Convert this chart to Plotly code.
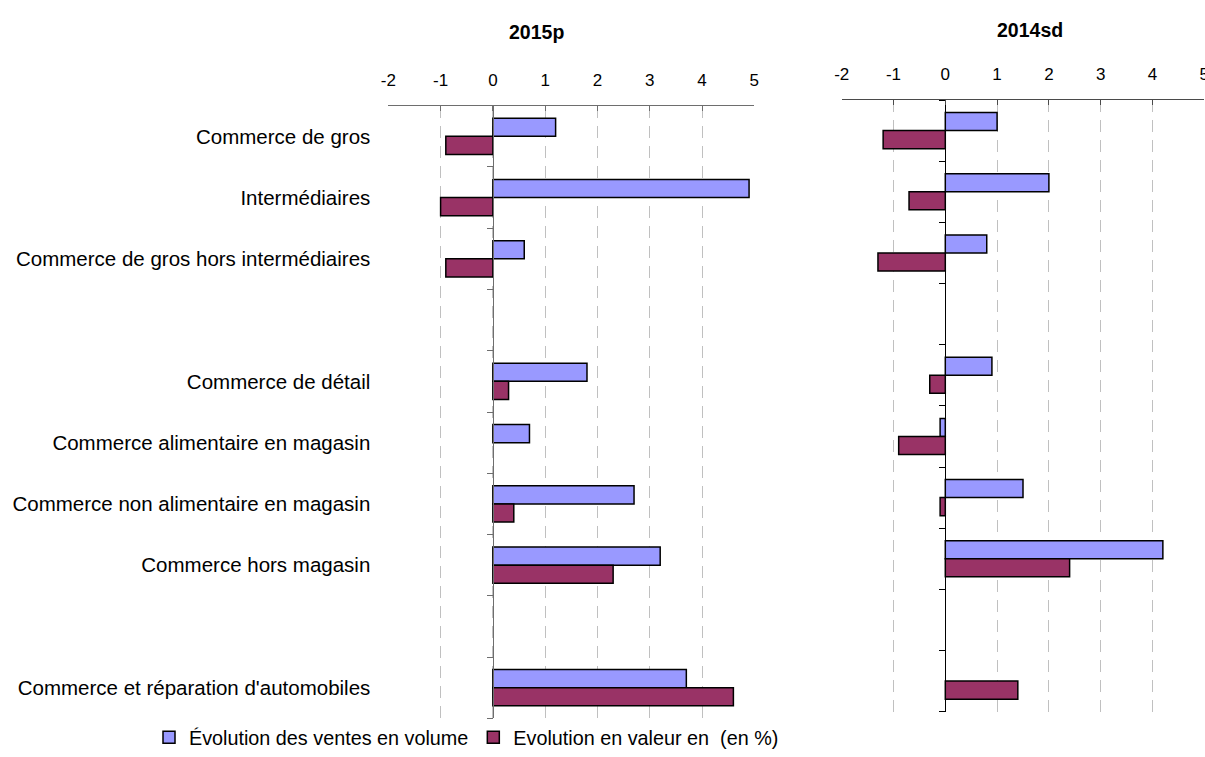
import plotly.graph_objects as go

# Rows of the chart; the two blank entries are spacer rows between sector groups
categories = [
    "Commerce de gros",
    "Intermédiaires",
    "Commerce de gros hors intermédiaires",
    " ",
    "Commerce de détail",
    "Commerce alimentaire en magasin",
    "Commerce non alimentaire en magasin",
    "Commerce hors magasin",
    "  ",
    "Commerce et réparation d'automobiles",
]

# 2015p (evolution in %)
volume_2015 = [1.2, 4.9, 0.6, None, 1.8, 0.7, 2.7, 3.2, None, 3.7]
valeur_2015 = [-0.9, -1.0, -0.9, None, 0.3, None, 0.4, 2.3, None, 4.6]

# 2014sd (evolution in %)
volume_2014 = [1.0, 2.0, 0.8, None, 0.9, -0.1, 1.5, 4.2, None, None]
valeur_2014 = [-1.2, -0.7, -1.3, None, -0.3, -0.9, -0.1, 2.4, None, 1.4]

panel_titles = ["2015p", "2014sd"]
series_names = ["Évolution des ventes en volume", "Evolution en valeur en  (en %)"]
x_ticks = [-2, -1, 0, 1, 2, 3, 4, 5]
x_tick_labels = ["-2", "-1", "0", "1", "2", "3", "4", "5"]

W, H = 1205, 757
BLUE = "#9999FF"
MAROON = "#993366"
FONT = "Liberation Sans, Arial, sans-serif"


def px_x(p):
    return p / W


def px_y(p):
    return 1 - p / H


fig = go.Figure()

panels = [
    dict(vol=volume_2015, val=valeur_2015, xa="x", ya="y", show=True),
    dict(vol=volume_2014, val=valeur_2014, xa="x2", ya="y2", show=False),
]

for p in panels:
    fig.add_trace(go.Bar(
        y=categories, x=p["vol"], orientation="h", name=series_names[0],
        marker=dict(color=BLUE, line=dict(color="#000000", width=1.5)),
        xaxis=p["xa"], yaxis=p["ya"], showlegend=p["show"], legendrank=1,
    ))
    fig.add_trace(go.Bar(
        y=categories, x=p["val"], orientation="h", name=series_names[1],
        marker=dict(color=MAROON, line=dict(color="#000000", width=1.5)),
        xaxis=p["xa"], yaxis=p["ya"], showlegend=p["show"], legendrank=2,
    ))

# panel geometry (pixels)
left_x = (388.3, 754.3)
right_x = (841.7, 1204.3)
left_y = (105.7, 718.3)
right_y = (100.0, 711.7)

n = len(categories)
boundaries = [i - 0.5 for i in range(n + 1)]


def xaxis_cfg(dom, anchor, line_col):
    return dict(
        domain=[px_x(dom[0]), px_x(dom[1])], range=[-2, 5], side="top",
        anchor=anchor, tickvals=x_ticks, ticktext=x_tick_labels,
        ticks="inside", ticklen=5, automargin=False, ticklabeloverflow="allow",
        tickcolor=line_col, showline=True, linecolor=line_col, linewidth=1,
        showgrid=True, gridcolor="#c0c0c0", gridwidth=1, griddash="12px,8px",
        zeroline=False, tickfont=dict(size=17, color="#000000", family=FONT),
        ticklabelstandoff=12, fixedrange=True,
    )


def zero_pos(dom):
    return px_x(dom[0] + (dom[1] - dom[0]) * 2 / 7)


fig.update_layout(
    width=W, height=H,
    margin=dict(l=0, r=0, t=0, b=0, autoexpand=False),
    paper_bgcolor="white", plot_bgcolor="white",
    barmode="group", bargap=0.41, bargroupgap=0,
    font=dict(family=FONT, color="#000000"),
    xaxis=xaxis_cfg(left_x, "y", "#6e6e6e"),
    xaxis2=xaxis_cfg(right_x, "y2", "#4a4a4a"),
    # category labels of the left panel
    yaxis=dict(
        domain=[px_y(left_y[1]), px_y(left_y[0])], type="category",
        categoryorder="array", categoryarray=categories,
        range=[n - 0.5, -0.5], anchor="free", position=px_x(left_x[0]),
        showline=False, ticks="", showgrid=False, zeroline=False,
        tickfont=dict(size=20.5, color="#000000", family=FONT),
        ticklabelstandoff=18, fixedrange=True, automargin=False,
    ),
    yaxis2=dict(
        domain=[px_y(right_y[1]), px_y(right_y[0])], type="category",
        categoryorder="array", categoryarray=categories,
        range=[n - 0.5, -0.5], anchor="free", position=px_x(right_x[0]),
        showline=False, ticks="", showticklabels=False, showgrid=False,
        zeroline=False, fixedrange=True, automargin=False,
    ),
    # vertical axis at zero with tick marks on row boundaries
    yaxis3=dict(
        overlaying="y", anchor="free", position=zero_pos(left_x),
        range=[n - 0.5, -0.5], tickvals=boundaries, ticks="outside", ticklen=6,
        tickcolor="#6e6e6e", showline=True, linecolor="#6e6e6e", linewidth=1,
        showticklabels=False, showgrid=False, zeroline=False, fixedrange=True,
        automargin=False,
    ),
    yaxis4=dict(
        overlaying="y2", anchor="free", position=zero_pos(right_x),
        range=[n - 0.5, -0.5], tickvals=boundaries, ticks="outside", ticklen=6,
        tickcolor="#000000", showline=True, linecolor="#000000", linewidth=1,
        showticklabels=False, showgrid=False, zeroline=False, fixedrange=True,
        automargin=False,
    ),
    legend=dict(
        orientation="h", x=px_x(149), xanchor="left", y=0, yanchor="bottom",
        font=dict(size=19.8, color="#000000", family=FONT),
        itemwidth=30, traceorder="normal", bgcolor="rgba(0,0,0,0)",
    ),
    showlegend=True,
)

# invisible helper traces so the zero-line axes are rendered
for ya, xa in (("y3", "x"), ("y4", "x2")):
    fig.add_trace(go.Scatter(x=[None], y=[None], xaxis=xa, yaxis=ya,
                             showlegend=False, hoverinfo="skip"))

# panel titles
title_pos = [(536, 31.7), (1030, 30.0)]
for title, (tx, ty) in zip(panel_titles, title_pos):
    fig.add_annotation(text=f"<b>{title}</b>", x=px_x(tx), y=px_y(ty), xref="paper",
                       yref="paper", showarrow=False, xanchor="center",
                       yanchor="middle",
                       font=dict(size=19.5, color="#000000", family=FONT))

fig.write_html("out.html")
